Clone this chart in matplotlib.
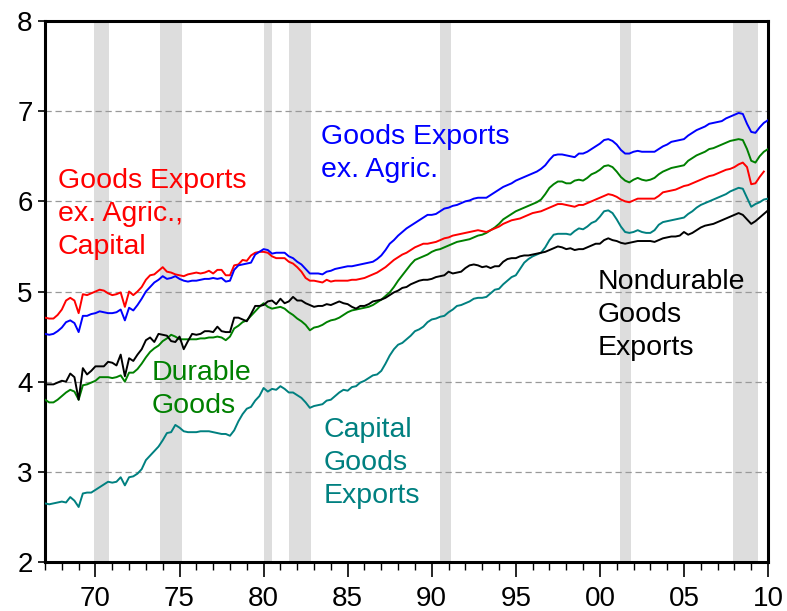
import numpy as np
import matplotlib
matplotlib.use("Agg")
import matplotlib.pyplot as plt
from matplotlib.ticker import MultipleLocator, FixedLocator

plt.rcParams['font.family'] = ['Liberation Sans', 'DejaVu Sans']

start_year = 1967  # quarterly observations from 1967Q1

goods_ex_agric = [
    4.53, 4.52, 4.53, 4.56, 4.60, 4.66, 4.68, 4.65, 4.55, 4.73, 4.73, 4.75,
    4.76, 4.78, 4.77, 4.76, 4.76, 4.77, 4.80, 4.68, 4.82, 4.79, 4.85, 4.92,
    5.00, 5.05, 5.10, 5.13, 5.17, 5.14, 5.15, 5.17, 5.14, 5.12, 5.11, 5.12,
    5.12, 5.13, 5.14, 5.14, 5.15, 5.14, 5.15, 5.11, 5.12, 5.24, 5.29, 5.30,
    5.31, 5.32, 5.41, 5.44, 5.47, 5.46, 5.42, 5.43, 5.43, 5.43, 5.39, 5.37,
    5.33, 5.30, 5.25, 5.20, 5.20, 5.20, 5.19, 5.22, 5.23, 5.25, 5.26, 5.27,
    5.28, 5.28, 5.29, 5.30, 5.31, 5.32, 5.33, 5.36, 5.40, 5.46, 5.53, 5.57,
    5.62, 5.66, 5.70, 5.73, 5.76, 5.79, 5.82, 5.85, 5.85, 5.86, 5.89, 5.92,
    5.93, 5.95, 5.96, 5.98, 6.00, 6.01, 6.03, 6.04, 6.04, 6.04, 6.07, 6.10,
    6.13, 6.16, 6.18, 6.20, 6.23, 6.25, 6.27, 6.29, 6.31, 6.33, 6.36, 6.40,
    6.46, 6.51, 6.52, 6.52, 6.51, 6.50, 6.49, 6.53, 6.53, 6.55, 6.58, 6.61,
    6.64, 6.68, 6.69, 6.67, 6.63, 6.57, 6.53, 6.53, 6.55, 6.56, 6.55, 6.55,
    6.55, 6.55, 6.58, 6.61, 6.63, 6.66, 6.67, 6.68, 6.69, 6.73, 6.76, 6.79,
    6.81, 6.83, 6.86, 6.87, 6.88, 6.89, 6.92, 6.94, 6.96, 6.98, 6.97, 6.86,
    6.77, 6.76, 6.82, 6.87, 6.90]

goods_ex_agric_capital = [
    4.71, 4.70, 4.70, 4.74, 4.80, 4.90, 4.93, 4.90, 4.76, 4.97, 4.96, 4.98,
    5.00, 5.02, 5.01, 4.98, 4.96, 4.97, 4.99, 4.83, 5.00, 4.96, 5.00, 5.05,
    5.13, 5.18, 5.19, 5.23, 5.27, 5.22, 5.21, 5.19, 5.18, 5.17, 5.19, 5.20,
    5.21, 5.20, 5.21, 5.23, 5.20, 5.24, 5.24, 5.18, 5.18, 5.29, 5.30, 5.35,
    5.34, 5.40, 5.43, 5.44, 5.44, 5.43, 5.39, 5.37, 5.37, 5.37, 5.33, 5.31,
    5.27, 5.22, 5.15, 5.12, 5.12, 5.11, 5.10, 5.13, 5.11, 5.12, 5.12, 5.12,
    5.12, 5.13, 5.13, 5.14, 5.15, 5.17, 5.19, 5.21, 5.24, 5.27, 5.31, 5.35,
    5.38, 5.41, 5.43, 5.46, 5.49, 5.51, 5.53, 5.53, 5.54, 5.55, 5.57, 5.59,
    5.60, 5.62, 5.63, 5.64, 5.65, 5.66, 5.67, 5.68, 5.67, 5.66, 5.68, 5.70,
    5.72, 5.75, 5.77, 5.79, 5.80, 5.81, 5.83, 5.85, 5.87, 5.88, 5.89, 5.91,
    5.93, 5.95, 5.97, 5.97, 5.96, 5.95, 5.94, 5.96, 5.96, 5.98, 6.00, 6.02,
    6.04, 6.06, 6.08, 6.07, 6.05, 6.02, 6.00, 5.99, 6.01, 6.03, 6.03, 6.03,
    6.03, 6.03, 6.06, 6.10, 6.11, 6.12, 6.13, 6.15, 6.17, 6.18, 6.20, 6.22,
    6.24, 6.26, 6.28, 6.29, 6.31, 6.33, 6.35, 6.36, 6.38, 6.41, 6.43, 6.38,
    6.19, 6.20, 6.27, 6.33]

durable_goods = [
    3.80, 3.77, 3.77, 3.80, 3.84, 3.88, 3.91, 3.89, 3.80, 3.96, 3.97, 3.99,
    4.01, 4.05, 4.05, 4.05, 4.04, 4.05, 4.07, 4.00, 4.10, 4.10, 4.14, 4.20,
    4.27, 4.33, 4.37, 4.40, 4.45, 4.48, 4.52, 4.50, 4.47, 4.47, 4.47, 4.47,
    4.47, 4.48, 4.48, 4.49, 4.49, 4.50, 4.49, 4.46, 4.50, 4.59, 4.62, 4.66,
    4.68, 4.73, 4.78, 4.83, 4.87, 4.83, 4.81, 4.82, 4.83, 4.81, 4.77, 4.74,
    4.70, 4.67, 4.63, 4.57, 4.60, 4.61, 4.63, 4.66, 4.68, 4.69, 4.71, 4.74,
    4.77, 4.79, 4.80, 4.81, 4.82, 4.83, 4.85, 4.88, 4.91, 4.95, 4.99, 5.05,
    5.12, 5.18, 5.24, 5.30, 5.35, 5.37, 5.39, 5.41, 5.44, 5.46, 5.47, 5.49,
    5.51, 5.53, 5.55, 5.56, 5.57, 5.58, 5.60, 5.62, 5.63, 5.65, 5.68, 5.71,
    5.75, 5.80, 5.83, 5.86, 5.89, 5.91, 5.93, 5.95, 5.97, 5.99, 6.02, 6.08,
    6.15, 6.19, 6.22, 6.22, 6.20, 6.20, 6.23, 6.24, 6.23, 6.26, 6.30, 6.32,
    6.35, 6.39, 6.40, 6.38, 6.33, 6.27, 6.23, 6.21, 6.24, 6.26, 6.24, 6.23,
    6.24, 6.26, 6.30, 6.33, 6.35, 6.37, 6.38, 6.39, 6.40, 6.45, 6.48, 6.51,
    6.53, 6.55, 6.58, 6.59, 6.61, 6.63, 6.65, 6.67, 6.68, 6.69, 6.68, 6.58,
    6.45, 6.43, 6.50, 6.55, 6.58]

nondurable_goods = [
    3.97, 3.97, 3.97, 3.99, 4.01, 4.00, 4.09, 4.05, 3.80, 4.15, 4.08, 4.12,
    4.17, 4.17, 4.17, 4.22, 4.21, 4.18, 4.30, 4.06, 4.26, 4.23, 4.30, 4.36,
    4.46, 4.49, 4.44, 4.53, 4.52, 4.51, 4.45, 4.44, 4.50, 4.36, 4.45, 4.53,
    4.52, 4.53, 4.56, 4.56, 4.55, 4.61, 4.56, 4.55, 4.55, 4.71, 4.71, 4.69,
    4.67, 4.75, 4.84, 4.84, 4.85, 4.89, 4.90, 4.86, 4.92, 4.87, 4.89, 4.94,
    4.90, 4.90, 4.87, 4.85, 4.83, 4.84, 4.84, 4.86, 4.85, 4.87, 4.89, 4.87,
    4.86, 4.83, 4.81, 4.84, 4.84, 4.86, 4.89, 4.90, 4.91, 4.93, 4.96, 4.99,
    5.01, 5.04, 5.05, 5.08, 5.10, 5.12, 5.13, 5.13, 5.14, 5.16, 5.17, 5.18,
    5.22, 5.20, 5.21, 5.22, 5.26, 5.29, 5.30, 5.29, 5.27, 5.28, 5.26, 5.28,
    5.28, 5.33, 5.36, 5.37, 5.37, 5.39, 5.40, 5.40, 5.41, 5.42, 5.43, 5.44,
    5.46, 5.48, 5.50, 5.49, 5.47, 5.48, 5.46, 5.47, 5.47, 5.49, 5.51, 5.53,
    5.53, 5.57, 5.59, 5.57, 5.56, 5.54, 5.53, 5.54, 5.55, 5.56, 5.56, 5.56,
    5.56, 5.55, 5.57, 5.59, 5.60, 5.61, 5.61, 5.62, 5.66, 5.63, 5.65, 5.68,
    5.71, 5.73, 5.74, 5.75, 5.77, 5.79, 5.81, 5.83, 5.85, 5.87, 5.85, 5.80,
    5.75, 5.78, 5.82, 5.86, 5.90]

capital_goods = [
    2.65, 2.64, 2.65, 2.66, 2.67, 2.66, 2.72, 2.68, 2.61, 2.76, 2.77, 2.77,
    2.80, 2.83, 2.86, 2.89, 2.88, 2.89, 2.94, 2.85, 2.94, 2.95, 2.98, 3.03,
    3.13, 3.18, 3.23, 3.28, 3.35, 3.43, 3.44, 3.52, 3.49, 3.45, 3.44, 3.44,
    3.44, 3.45, 3.45, 3.45, 3.44, 3.43, 3.42, 3.42, 3.40, 3.46, 3.56, 3.64,
    3.70, 3.72, 3.79, 3.84, 3.93, 3.89, 3.92, 3.91, 3.95, 3.92, 3.88, 3.88,
    3.85, 3.82, 3.77, 3.71, 3.73, 3.74, 3.75, 3.79, 3.80, 3.84, 3.88, 3.91,
    3.90, 3.94, 3.95, 3.99, 4.01, 4.04, 4.07, 4.08, 4.12, 4.20, 4.29, 4.36,
    4.41, 4.43, 4.47, 4.51, 4.56, 4.58, 4.61, 4.66, 4.69, 4.70, 4.72, 4.73,
    4.77, 4.80, 4.84, 4.85, 4.87, 4.89, 4.92, 4.93, 4.93, 4.94, 4.98, 5.02,
    5.03, 5.08, 5.12, 5.16, 5.18, 5.25, 5.32, 5.36, 5.39, 5.41, 5.43, 5.49,
    5.57, 5.63, 5.64, 5.64, 5.64, 5.63, 5.67, 5.70, 5.69, 5.72, 5.76, 5.78,
    5.83, 5.89, 5.90, 5.87, 5.80, 5.72, 5.66, 5.65, 5.66, 5.68, 5.66, 5.65,
    5.65, 5.68, 5.74, 5.77, 5.78, 5.79, 5.80, 5.81, 5.82, 5.86, 5.89, 5.93,
    5.96, 5.98, 6.00, 6.02, 6.04, 6.06, 6.08, 6.11, 6.13, 6.15, 6.14, 6.04,
    5.94, 5.97, 5.99, 6.02, 6.03]

recessions = [(1969.92, 1970.83), (1973.83, 1975.17), (1980.0, 1980.5),
              (1981.5, 1982.83), (1990.5, 1991.17), (2001.17, 2001.83),
              (2007.92, 2009.42)]

x_tick_years = [1970, 1975, 1980, 1985, 1990, 1995, 2000, 2005, 2010]
x_tick_labels = ['70', '75', '80', '85', '90', '95', '00', '05', '10']
y_ticks = [2, 3, 4, 5, 6, 7, 8]


def qx(series):
    return start_year + np.arange(len(series)) / 4.0


fig = plt.figure(figsize=(7.87, 6.11), dpi=100)
ax = fig.add_axes([0.0572, 0.0802, 0.9187, 0.8854])

for a, b in recessions:
    ax.axvspan(a, b, color='#dddddd', lw=0, zorder=0)

for yv in [3, 4, 5, 6, 7]:
    ax.axhline(yv, color='#999999', lw=0.9, ls=(0, (5, 3)), zorder=1)

lw = 1.4
ax.plot(qx(capital_goods), capital_goods, color='#008080', lw=lw, zorder=3)
ax.plot(qx(durable_goods), durable_goods, color='#008000', lw=lw, zorder=3)
ax.plot(qx(goods_ex_agric_capital), goods_ex_agric_capital, color='#ff0000', lw=lw, zorder=3)
ax.plot(qx(goods_ex_agric), goods_ex_agric, color='#0000ff', lw=lw, zorder=4)
ax.plot(qx(nondurable_goods), nondurable_goods, color='black', lw=lw, zorder=4)

ax.set_xlim(1967, 2010)
ax.set_ylim(2, 8)

ax.set_yticks(y_ticks)
ax.set_yticklabels([str(v) for v in y_ticks])
ax.xaxis.set_major_locator(FixedLocator(x_tick_years))
ax.set_xticklabels(x_tick_labels)
ax.xaxis.set_minor_locator(MultipleLocator(1))

ax.tick_params(axis='both', which='major', labelsize=20, direction='out', width=1.2, color='black')
ax.tick_params(axis='x', which='major', length=11, pad=6)
ax.tick_params(axis='x', which='minor', length=6, width=1.0, direction='out')
ax.tick_params(axis='y', which='major', length=5, pad=4)
ax.tick_params(axis='y', which='minor', left=False)

for s in ax.spines.values():
    s.set_linewidth(2.2)
    s.set_color('black')

fs = 20.5
ls_ = 1.36
ax.text(1967.77, 6.375, 'Goods Exports\nex. Agric.,\nCapital', color='#ff0000',
        fontsize=fs, va='top', ha='left', linespacing=ls_, zorder=5)
ax.text(1983.41, 6.855, 'Goods Exports\nex. Agric.', color='#0000ff',
        fontsize=fs, va='top', ha='left', linespacing=ls_, zorder=5)
ax.text(1999.86, 5.25, 'Nondurable\nGoods\nExports', color='black',
        fontsize=fs, va='top', ha='left', linespacing=ls_, zorder=5)
ax.text(1973.35, 4.245, 'Durable\nGoods', color='#008000',
        fontsize=fs, va='top', ha='left', linespacing=ls_, zorder=5)
ax.text(1983.57, 3.61, 'Capital\nGoods\nExports', color='#008080',
        fontsize=fs, va='top', ha='left', linespacing=ls_, zorder=5)

fig.savefig('out.png', dpi=100)
